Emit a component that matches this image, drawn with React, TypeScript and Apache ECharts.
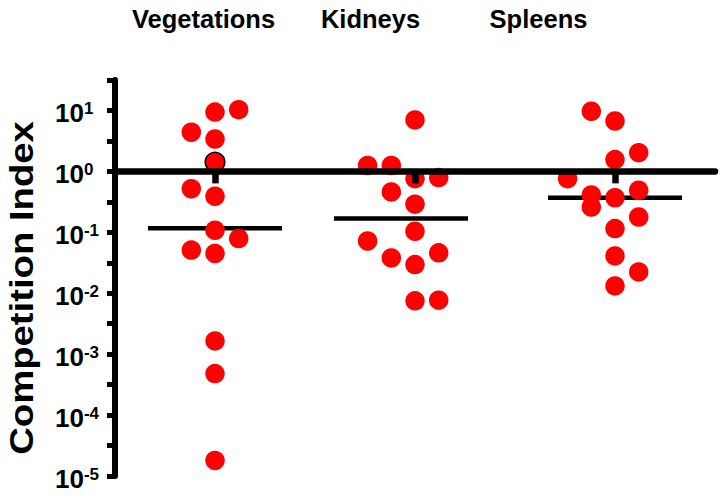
import React, { useEffect, useRef } from "react";
import * as echarts from "echarts";

const categories = ["Vegetations", "Kidneys", "Spleens"];

const vegetations = [10.3, 9.4, 4.4, 3.4, 1.42, 0.52, 0.39, 0.108, 0.079, 0.051, 0.045, 0.00165, 0.00048, 0.000018];
const vegetationsSlots = [1, 0, -1, 0, 0, -1, 0, 0, 1, -1, 0, 0, 0, 0];

const kidneys = [7.0, 1.25, 1.25, 0.76, 0.79, 0.46, 0.29, 0.104, 0.072, 0.046, 0.038, 0.0295, 0.0075, 0.0077];
const kidneysSlots = [0, -2, -1, 0, 1, -1, 0, 0, -2, 1, -1, 0, 0, 1];

const spleens = [9.7, 6.7, 2.03, 1.56, 0.76, 0.49, 0.41, 0.37, 0.26, 0.178, 0.115, 0.041, 0.0224, 0.0132];
const spleensSlots = [-1, 0, 1, 0, -2, 1, -1, 0, -1, 1, 0, 0, 1, 0];

const medians = [0.117, 0.168, 0.37];
// outlined point: group index, point index
const outlinedPoint = [0, 4];

const yMinExp = -5;
const yMaxExp = 1.5;

// layout / style constants
const SLOT_PX = 23.7;
const MEDIAN_SHIFT_PX = [0, -14, 0];
const LABEL_X = [203.5, 370.5, 538.5];
const FONT = '"Liberation Sans", Arial, Helvetica, sans-serif';

export default function App() {
  const ref = useRef<HTMLDivElement>(null);

  useEffect(() => {
    if (!ref.current) return;
    const chart = echarts.init(ref.current, null, { renderer: "svg" });

    const groups = [vegetations, kidneys, spleens];
    const slots = [vegetationsSlots, kidneysSlots, spleensSlots];
    const dots: any[] = [];
    groups.forEach((vals, gi) => {
      vals.forEach((v, pi) => {
        const item: any = {
          value: [gi, Math.log10(v)],
          symbolOffset: [slots[gi][pi] * SLOT_PX, 0],
        };
        if (gi === outlinedPoint[0] && pi === outlinedPoint[1]) {
          item.itemStyle = { borderColor: "#000", borderWidth: 1.6 };
        }
        dots.push(item);
      });
    });

    const medianData = medians.map((m, i) => ({
      value: [i, Math.log10(m)],
      symbolOffset: [MEDIAN_SHIFT_PX[i], 0],
    }));

    chart.setOption({
      animation: false,
      backgroundColor: "#fff",
      grid: { left: 115, right: 8, top: 80, bottom: 28, containLabel: false },
      xAxis: {
        type: "category",
        data: categories,
        boundaryGap: true,
        z: 10,
        axisLine: { show: true, onZero: true, lineStyle: { color: "#000", width: 6.5 } },
        axisTick: { show: true, alignWithLabel: true, length: 12, lineStyle: { color: "#000", width: 6.5 } },
        axisLabel: { show: false },
        splitLine: { show: false },
      },
      yAxis: {
        type: "value",
        min: yMinExp,
        max: yMaxExp,
        interval: 0.5,
        axisLine: { show: true, lineStyle: { color: "#000", width: 6 } },
        axisTick: { show: true, length: 8, lineStyle: { color: "#000", width: 5 } },
        splitLine: { show: false },
        axisLabel: {
          align: "left",
          margin: 60,
          padding: [6, 0, 0, 0],
          formatter: (v: number) => {
            const r = Math.round(v);
            if (Math.abs(v - r) > 1e-6) return "";
            return `{b|10}{s|${r}}`;
          },
          rich: {
            b: { fontSize: 26, fontWeight: "bold", fontFamily: FONT, color: "#000" },
            s: { fontSize: 17, fontWeight: "bold", fontFamily: FONT, color: "#000", verticalAlign: "top" },
          },
        },
      },
      series: [
        {
          name: "median",
          type: "scatter",
          symbol: "rect",
          symbolSize: [134, 4.5],
          itemStyle: { color: "#000", opacity: 1 },
          z: 2,
          data: medianData,
        },
        {
          name: "competition index",
          type: "scatter",
          symbol: "circle",
          symbolSize: 19.5,
          itemStyle: { color: "#ff0000", opacity: 1 },
          z: 3,
          data: dots,
        },
      ],
      graphic: [
        {
          type: "text",
          x: 22,
          y: 288,
          rotation: Math.PI / 2,
          scaleX: 1.16,
          style: {
            text: "Competition Index",
            fontSize: 33,
            fontWeight: "bold",
            fontFamily: FONT,
            fill: "#000",
            align: "center",
            verticalAlign: "middle",
          },
        },
        ...categories.map((c, i) => ({
          type: "text",
          x: LABEL_X[i],
          y: 19,
          style: {
            text: c,
            fontSize: 25.5,
            fontWeight: "bold",
            fontFamily: FONT,
            fill: "#000",
            align: "center",
            verticalAlign: "middle",
          },
        })),
      ],
    });

    return () => chart.dispose();
  }, []);

  return <div ref={ref} style={{ width: 723, height: 504, position: "absolute", left: 0, top: 0 }} />;
}
